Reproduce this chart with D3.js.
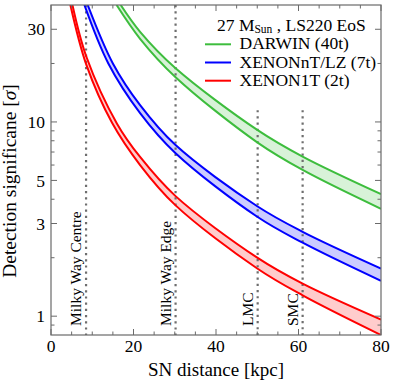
<!DOCTYPE html>
<html>
<head>
<meta charset="utf-8">
<script src="https://cdn.jsdelivr.net/npm/d3@7"></script>
<style>
  body { margin: 0; background: #fff; }
  svg { display: block; font-family: "Liberation Serif", "Times New Roman", serif; }
</style>
</head>
<body>
<svg id="chart" width="395" height="384"></svg>
<script>
// values: [distance kpc, significance sigma]
var darwinHi = [[16.9, 40], [21.6, 29.1], [30.2, 18.9], [50, 9.1], [61, 6.63], [80, 4.25]];
var darwinLo = [[15.9, 40], [21.6, 26.8], [30.2, 17.0], [50, 7.85], [61, 5.66], [80, 3.57]];
var nTHi = [[8.9, 40], [15, 20], [21.6, 12.2], [30.2, 7.6], [50, 3.68], [61, 2.72], [80, 1.76]];
var nTLo = [[8.1, 40], [13.9, 20], [21.6, 11.1], [30.2, 6.9], [50, 3.25], [61, 2.39], [80, 1.52]];
var x1THi = [[5.2, 40], [8.6, 21.6], [16, 9.8], [21.6, 6.6], [30.2, 4.15], [50, 2.0], [61, 1.47], [80, 0.96]];
var x1TLo = [[4.7, 40], [8.6, 19.6], [14.8, 9.9], [21.6, 6.0], [30.2, 3.72], [50, 1.76], [61, 1.28], [80, 0.8]];

var seriesNames = ["DARWIN (40t)", "XENONnT/LZ (7t)", "XENON1T (2t)"];
var seriesColors = ["#3dbd3d", "#0000ff", "#ff0000"];

// reference distances (kpc) and the top of each marker line
var markNames = ["Milky Way Centre", "Milky Way Edge", "LMC", "SMC"];
var markDist = [8.5, 30.2, 50.1, 61];
var markTop = [40, 40, 11.5, 11.5];

var xTicks = [0, 20, 40, 60, 80];
var xMinor = [5, 10, 15, 25, 30, 35, 45, 50, 55, 65, 70, 75];
var yTicks = [1, 3, 5, 10, 30];
var yMinor = [0.9, 2, 4, 6, 7, 8, 9, 20];

var svg = d3.select("#chart");
var pl = 51, pr = 381, pt = 5, pb = 335;

var x = d3.scaleLinear().domain([0, 80]).range([pl, pr]);
var y = d3.scaleLog().domain([0.8, 40]).range([pb, pt]);

svg.append("clipPath").attr("id", "plotclip")
  .append("rect")
  .attr("x", pl).attr("y", pt)
  .attr("width", pr - pl).attr("height", pb - pt);

var plot = svg.append("g").attr("clip-path", "url(#plotclip)");

var line = d3.line()
  .x(function(d) { return x(d[0]); })
  .y(function(d) { return y(d[1]); })
  .curve(d3.curveCatmullRom.alpha(0.5));

var bands = [
  { hi: darwinHi, lo: darwinLo },
  { hi: nTHi, lo: nTLo },
  { hi: x1THi, lo: x1TLo }
];

// shaded bands first
bands.forEach(function(b, i) {
  var up = line(b.hi);
  var down = line(b.lo.slice().reverse()).replace(/^M/, "L");
  plot.append("path")
    .attr("d", up + down + "Z")
    .attr("fill", seriesColors[i])
    .attr("fill-opacity", 0.2)
    .attr("stroke", "none");
});

// marker lines
markDist.forEach(function(d, i) {
  plot.append("line")
    .attr("x1", x(d)).attr("x2", x(d))
    .attr("y1", y(markTop[i])).attr("y2", pb)
    .attr("stroke", "#6e6e6e")
    .attr("stroke-width", 2.2)
    .attr("stroke-dasharray", "2.2,4");
  svg.append("text")
    .attr("transform", "translate(" + (x(d) - 5) + "," + 326 + ") rotate(-90)")
    .attr("font-size", 15.5)
    .attr("fill", "#000")
    .text(markNames[i]);
});

// band edges
bands.forEach(function(b, i) {
  [b.hi, b.lo].forEach(function(pts) {
    plot.append("path")
      .attr("d", line(pts))
      .attr("fill", "none")
      .attr("stroke", seriesColors[i])
      .attr("stroke-width", 2);
  });
});

// frame
svg.append("rect")
  .attr("x", pl).attr("y", pt)
  .attr("width", pr - pl).attr("height", pb - pt)
  .attr("fill", "none")
  .attr("stroke", "#6a6a6a")
  .attr("stroke-width", 1.2);

// ticks on all four sides, pointing inward
var tickColor = "#6a6a6a";
function xTick(v, len) {
  svg.append("line").attr("x1", x(v)).attr("x2", x(v)).attr("y1", pb).attr("y2", pb - len)
    .attr("stroke", tickColor);
  svg.append("line").attr("x1", x(v)).attr("x2", x(v)).attr("y1", pt).attr("y2", pt + len)
    .attr("stroke", tickColor);
}
function yTick(v, len) {
  svg.append("line").attr("x1", pl).attr("x2", pl + len).attr("y1", y(v)).attr("y2", y(v))
    .attr("stroke", tickColor);
  svg.append("line").attr("x1", pr).attr("x2", pr - len).attr("y1", y(v)).attr("y2", y(v))
    .attr("stroke", tickColor);
}
xTicks.forEach(function(v) { xTick(v, 6); });
xMinor.forEach(function(v) { xTick(v, 3.5); });
yTicks.forEach(function(v) { yTick(v, 6); });
yMinor.forEach(function(v) { yTick(v, 3.5); });

svg.selectAll(".xlab").data(xTicks).join("text")
  .attr("class", "xlab")
  .attr("x", function(d) { return x(d); })
  .attr("y", 352)
  .attr("text-anchor", "middle")
  .attr("font-size", 17.5)
  .text(function(d) { return d; });

svg.selectAll(".ylab").data(yTicks).join("text")
  .attr("class", "ylab")
  .attr("x", 45)
  .attr("y", function(d) { return y(d); })
  .attr("dy", "0.35em")
  .attr("text-anchor", "end")
  .attr("font-size", 17.5)
  .text(function(d) { return d; });

// axis titles
svg.append("text")
  .attr("x", (pl + pr) / 2)
  .attr("y", 376)
  .attr("text-anchor", "middle")
  .attr("font-size", 19)
  .text("SN distance [kpc]");

var yt = svg.append("text")
  .attr("transform", "translate(16,181) rotate(-90)")
  .attr("text-anchor", "middle")
  .attr("font-size", 19.5);
yt.append("tspan").text("Detection significane [");
yt.append("tspan").attr("font-style", "italic").text("σ");
yt.append("tspan").text("]");

// legend
var title = svg.append("text").attr("x", 217).attr("y", 30.5).attr("font-size", 17.5);
title.append("tspan").text("27 M");
title.append("tspan").attr("font-size", 11.5).attr("dy", 2.5).text("Sun");
title.append("tspan").attr("dy", -2.5).text(" , LS220 EoS");

var legend = svg.selectAll(".leg").data(seriesNames).join("g")
  .attr("class", "leg")
  .attr("transform", function(d, i) { return "translate(0," + (44.3 + i * 18.2) + ")"; });
legend.append("line")
  .attr("x1", 205).attr("x2", 231).attr("y1", 0).attr("y2", 0)
  .attr("stroke", function(d, i) { return seriesColors[i]; })
  .attr("stroke-width", 2);
legend.append("text")
  .attr("x", 239.5).attr("y", 5)
  .attr("font-size", 17.5)
  .text(function(d) { return d; });
</script>
</body>
</html>
